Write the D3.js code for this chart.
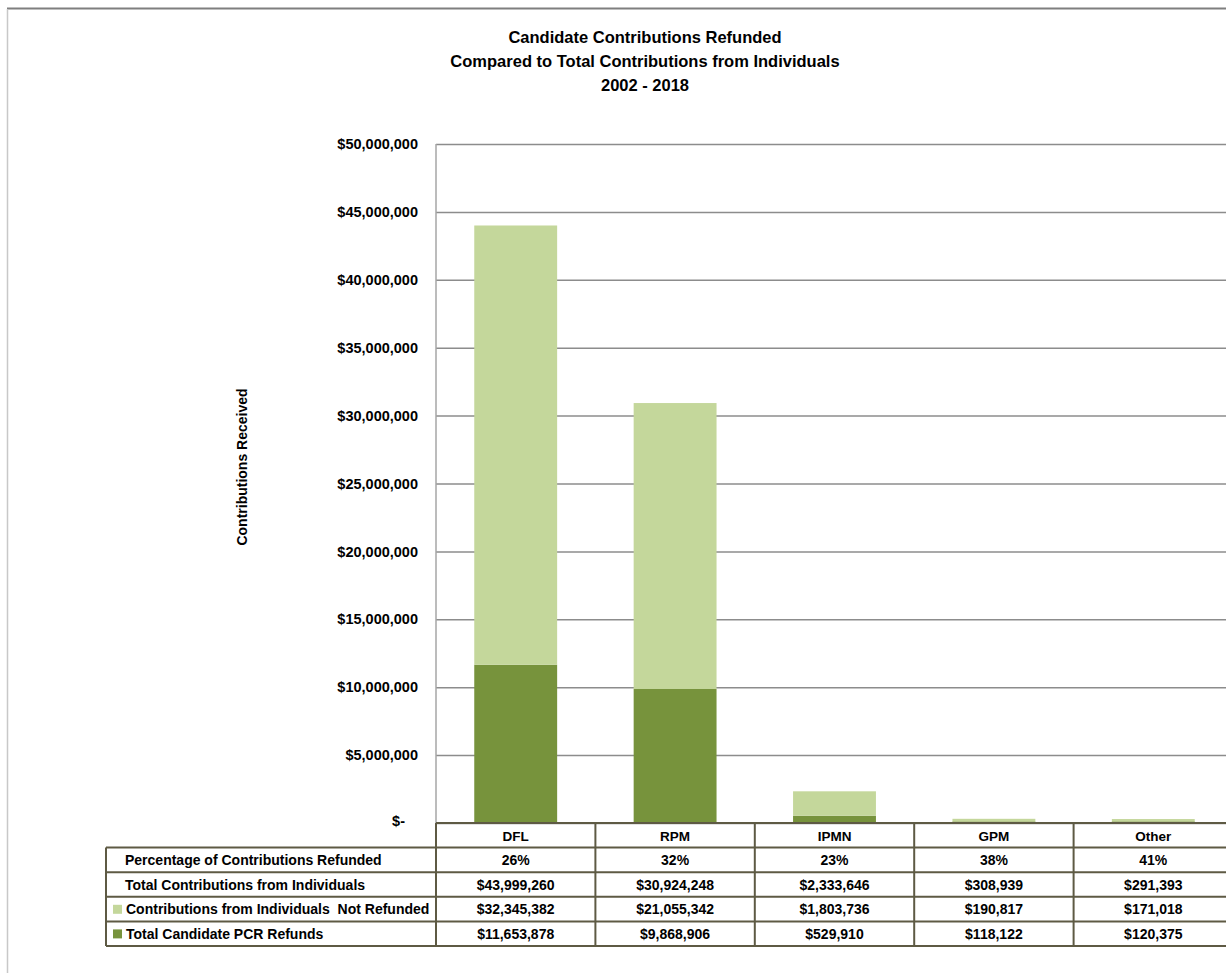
<!DOCTYPE html>
<html>
<head>
<meta charset="utf-8">
<script src="https://cdn.jsdelivr.net/npm/d3@7"></script>
<style>
  body { margin: 0; background: #fff; }
  svg { display: block; font-family: "Liberation Sans", Arial, sans-serif; }
</style>
</head>
<body>
<script>
// chart data
var categories = ["DFL", "RPM", "IPMN", "GPM", "Other"];
var pctRefunded = [26, 32, 23, 38, 41];
var totalContrib = [43999260, 30924248, 2333646, 308939, 291393];
var notRefunded = [32345382, 21055342, 1803736, 190817, 171018];
var pcrRefunds = [11653878, 9868906, 529910, 118122, 120375];
var yTicks = [0, 5000000, 10000000, 15000000, 20000000, 25000000, 30000000, 35000000, 40000000, 45000000, 50000000];
var titleLines = ["Candidate Contributions Refunded", "Compared to Total Contributions from Individuals", "2002 - 2018"];

var w = 1226, h = 973;
// plot box (right edge runs past the window, like the reference)
var plotLeft = 436, plotRight = 1233, plotTop = 144, plotBottom = 823;
var lightGreen = "#c4d79b", darkGreen = "#77933c", tableLine = "#5e5a44";

var svg = d3.select("body").append("svg")
  .attr("width", w).attr("height", h);

// outer frame (only top and left edges are visible)
svg.append("line").attr("x1", 7).attr("x2", w).attr("y1", 8.5).attr("y2", 8.5)
  .attr("stroke", "#7f7f7f").attr("stroke-width", 2);
svg.append("line").attr("x1", 7.5).attr("x2", 7.5).attr("y1", 9).attr("y2", h)
  .attr("stroke", "#c8c8c8").attr("stroke-width", 1.5);

// title
svg.append("g").selectAll("text").data(titleLines).enter().append("text")
  .attr("x", 645).attr("y", function(d, i){ return 43 + i * 24; })
  .attr("text-anchor", "middle")
  .style("font-size", "16.5px").style("font-weight", "bold")
  .text(function(d){ return d; });

var y = d3.scaleLinear().domain([0, 50000000]).range([plotBottom, plotTop]);
var xCol = d3.scaleBand().domain(categories).range([plotLeft, plotRight]);
var xBar = d3.scaleBand().domain(categories).range([plotLeft, plotRight])
  .paddingInner(0.48).paddingOuter(0.24);

// gridlines + tick labels via axis
var yAxis = d3.axisLeft(y).tickValues(yTicks)
  .tickSize(-(plotRight - plotLeft)).tickPadding(18)
  .tickFormat(function(d){ return d === 0 ? "$-" : d3.format("$,")(d); });
var gy = svg.append("g").attr("transform", "translate(" + plotLeft + ",0)").call(yAxis);
gy.select(".domain").remove();
gy.selectAll(".tick line").attr("stroke", "#8c8c8c").attr("stroke-width", 1.5);
gy.selectAll(".tick text").attr("fill", "#000")
  .style("font-size", "14.5px").style("font-weight", "bold")
  .style("font-family", "'Liberation Sans', Arial, sans-serif");
gy.selectAll(".tick").filter(function(d){ return d === 0; }).select("text")
  .attr("x", -31).attr("dy", "0.2em");
// left axis line
svg.append("line").attr("x1", plotLeft).attr("x2", plotLeft)
  .attr("y1", plotTop).attr("y2", plotBottom)
  .attr("stroke", "#a6a6a6").attr("stroke-width", 1.5);

// axis title
svg.append("text")
  .attr("transform", "translate(247,467) rotate(-90)")
  .attr("text-anchor", "middle")
  .style("font-size", "14px").style("font-weight", "bold")
  .text("Contributions Received");

// stacked bars
var rows = categories.map(function(c, i){
  return { cat: c, refunds: pcrRefunds[i], notRefunded: notRefunded[i] };
});
var stack = d3.stack().keys(["refunds", "notRefunded"])(rows);
var colors = { refunds: darkGreen, notRefunded: lightGreen };

svg.append("g").selectAll("g").data(stack).enter().append("g")
  .attr("fill", function(d){ return colors[d.key]; })
  .selectAll("rect").data(function(d){ return d; }).enter().append("rect")
    .attr("x", function(d){ return xBar(d.data.cat); })
    .attr("width", xBar.bandwidth())
    .attr("y", function(d){ return y(d[1]); })
    .attr("height", function(d){ return y(d[0]) - y(d[1]); });

// data table under the chart
var rowH = 24.6;
var tableRows = [
  { label: "Percentage of Contributions Refunded", vals: pctRefunded.map(function(v){ return v + "%"; }), swatch: null },
  { label: "Total Contributions from Individuals", vals: totalContrib.map(d3.format("$,")), swatch: null },
  { label: "Contributions from Individuals  Not Refunded", vals: notRefunded.map(d3.format("$,")), swatch: lightGreen },
  { label: "Total Candidate PCR Refunds", vals: pcrRefunds.map(d3.format("$,")), swatch: darkGreen }
];
var tableTop = plotBottom + rowH;   // first data row starts under the category row
var tableLeft = 106;
var tbl = svg.append("g");

// category header row
tbl.selectAll("text.cat").data(categories).enter().append("text")
  .attr("class", "cat")
  .attr("x", function(d){ return xCol(d) + xCol.bandwidth() / 2; })
  .attr("y", plotBottom + 18)
  .attr("text-anchor", "middle")
  .style("font-size", "13.5px").style("font-weight", "bold")
  .text(function(d){ return d; });

tableRows.forEach(function(r, i){
  var ty = tableTop + i * rowH;
  var g = tbl.append("g");
  if (r.swatch) {
    g.append("rect").attr("x", 113).attr("y", ty + 8).attr("width", 9).attr("height", 9)
      .attr("fill", r.swatch);
  }
  g.append("text")
    .attr("x", r.swatch ? 126 : 125).attr("y", ty + 17.5)
    .style("font-size", "14px").style("font-weight", "bold")
    .style("white-space", "pre")
    .text(r.label);
  g.selectAll("text.v").data(r.vals).enter().append("text")
    .attr("class", "v")
    .attr("x", function(d, j){ return xCol(categories[j]) + xCol.bandwidth() / 2; })
    .attr("y", ty + 17.5)
    .attr("text-anchor", "middle")
    .style("font-size", "14px").style("font-weight", "bold")
    .text(function(d){ return d; });
});

// table grid lines
var lineStyle = function(sel){ return sel.attr("stroke", tableLine).attr("stroke-width", 2).attr("fill", "none"); };
var tableBottom = tableTop + tableRows.length * rowH;
lineStyle(tbl.append("line").attr("x1", plotLeft).attr("x2", w).attr("y1", plotBottom).attr("y2", plotBottom));
d3.range(tableRows.length + 1).forEach(function(i){
  lineStyle(tbl.append("line").attr("x1", tableLeft).attr("x2", w)
    .attr("y1", tableTop + i * rowH).attr("y2", tableTop + i * rowH));
});
lineStyle(tbl.append("line").attr("x1", tableLeft).attr("x2", tableLeft).attr("y1", tableTop).attr("y2", tableBottom));
tbl.selectAll("line.col").data(categories).enter().append("line")
  .attr("class", "col")
  .attr("x1", function(d){ return xCol(d); }).attr("x2", function(d){ return xCol(d); })
  .attr("y1", plotBottom).attr("y2", tableBottom)
  .call(lineStyle);
</script>
</body>
</html>
